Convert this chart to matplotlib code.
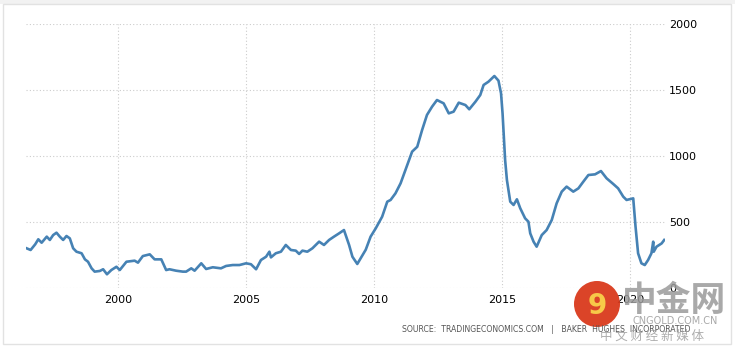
import matplotlib.pyplot as plt
from matplotlib.patches import Rectangle, Ellipse

# US oil rig count (Baker Hughes)
years = [1996.44, 1996.6, 1996.78, 1996.9, 1997.03, 1997.23, 1997.35, 1997.48, 1997.61, 1997.74,
         1997.87, 1998.0, 1998.13, 1998.26, 1998.39, 1998.59, 1998.72, 1998.84, 1998.98, 1999.1,
         1999.3, 1999.43, 1999.58, 1999.75, 1999.95, 2000.08, 2000.34, 2000.66, 2000.79, 2000.98,
         2001.25, 2001.44, 2001.7, 2001.89, 2002.02, 2002.28, 2002.54, 2002.67, 2002.87, 2003.0,
         2003.26, 2003.45, 2003.71, 2004.03, 2004.23, 2004.49, 2004.75, 2005.01, 2005.2, 2005.4,
         2005.59, 2005.79, 2005.92, 2005.98, 2006.17, 2006.37, 2006.56, 2006.76, 2006.95, 2007.08,
         2007.21, 2007.4, 2007.6, 2007.86, 2008.05, 2008.25, 2008.44, 2008.64, 2008.83, 2008.92,
         2009.03, 2009.16, 2009.35, 2009.48, 2009.68, 2009.87, 2010.07, 2010.32, 2010.52, 2010.65,
         2010.84, 2011.04, 2011.3, 2011.49, 2011.69, 2011.88, 2012.07, 2012.27, 2012.46, 2012.72,
         2012.92, 2013.11, 2013.31, 2013.57, 2013.72, 2013.96, 2014.15, 2014.28, 2014.47, 2014.7,
         2014.86, 2014.96, 2015.02, 2015.12, 2015.19, 2015.32, 2015.45, 2015.58, 2015.71, 2015.9,
         2016.03, 2016.1, 2016.23, 2016.35, 2016.55, 2016.74, 2016.94, 2017.13, 2017.33, 2017.52,
         2017.78, 2017.98, 2018.17, 2018.37, 2018.63, 2018.86, 2019.08, 2019.34, 2019.53, 2019.73,
         2019.86, 2020.12, 2020.21, 2020.31, 2020.44, 2020.57, 2020.7, 2020.83, 2020.9, 2020.92,
         2021.03, 2021.23, 2021.33]
rigs = [301, 288, 331, 369, 343, 389, 364, 401, 419, 389,
        364, 394, 376, 301, 275, 263, 217, 199, 149, 124,
        129, 142, 104, 136, 161, 136, 199, 207, 192, 242,
        255, 217, 217, 136, 142, 131, 124, 124, 149, 131,
        187, 144, 157, 149, 167, 174, 174, 187, 180, 142,
        212, 237, 275, 232, 263, 275, 326, 288, 283, 258,
        283, 275, 301, 351, 326, 364, 389, 414, 439, 389,
        326, 237, 182, 225, 290, 389, 452, 540, 654, 667,
        717, 793, 932, 1033, 1070, 1197, 1311, 1374, 1424, 1399,
        1323, 1336, 1404, 1386, 1354, 1411, 1462, 1538, 1563, 1606,
        1571, 1475, 1323, 970, 818, 654, 629, 672, 604, 528,
        502, 414, 351, 313, 401, 439, 515, 641, 730, 768,
        730, 755, 805, 856, 861, 886, 831, 788, 755, 692,
        667, 679, 465, 263, 187, 174, 212, 263, 351, 275,
        313, 338, 364]

x_ticks = [2000, 2005, 2010, 2015, 2020]
y_ticks = [0, 500, 1000, 1500, 2000]

W, H = 735, 354
fig = plt.figure(figsize=(W / 100, H / 100), dpi=100)
fig.patch.set_facecolor('white')

# page frame
fig.add_artist(Rectangle((0, 1 - 4 / H), 1, 4 / H, transform=fig.transFigure,
                         facecolor='#f2f2f2', edgecolor='none'))
fig.add_artist(Rectangle((3 / W, 1 - 344 / H), 728 / W, 340 / H, transform=fig.transFigure,
                         facecolor='none', edgecolor='#e2e2e2', lw=1))

ax = fig.add_axes([26 / W, 1 - 288 / H, (665 - 26) / W, (288 - 24) / H])
ax.plot(years, rigs, color='#4682b4', lw=1.9)

ax.set_xlim(1996.42, 2021.36)
ax.set_ylim(0, 2000)
ax.set_xticks(x_ticks)
ax.set_yticks(y_ticks)
ax.yaxis.tick_right()
ax.tick_params(length=0, labelsize=8, colors='black')
ax.tick_params(axis='y', pad=3)
ax.tick_params(axis='x', pad=5)
ax.grid(True, color='#cccccc', ls=(0, (1, 2)), lw=0.8)
for s in ax.spines.values():
    s.set_visible(False)
ax.set_facecolor('none')

fig.text(690 / W, 1 - 329 / H,
         'SOURCE:  TRADINGECONOMICS.COM   |   BAKER  HUGHES  INCORPORATED',
         ha='right', va='center', fontsize=5.6, color='#555555')

# watermark
fig.add_artist(Ellipse((597 / W, 1 - 304 / H), 46 / W, 46 / H, transform=fig.transFigure,
                       facecolor='#d93a1c', edgecolor='none', alpha=0.95))
fig.text(597 / W, 1 - 306 / H, '9', ha='center', va='center', fontsize=20,
         fontweight='bold', color='#f7c948')
cjk = ['Noto Sans CJK SC', 'DejaVu Sans']
fig.text(674 / W, 1 - 300 / H, '中金网', ha='center', va='center', fontsize=25,
         fontweight='bold', color='#9a9a9a', alpha=0.85, family=cjk)
fig.text(675 / W, 1 - 321 / H, 'CNGOLD.COM.CN', ha='center', va='center', fontsize=7,
         color='#9a9a9a', alpha=0.85)
fig.text(652 / W, 1 - 336 / H, '中 文 财 经 新 媒 体', ha='center', va='center', fontsize=9,
         color='#a0a0a0', alpha=0.85, family=cjk)

fig.savefig('out.png', dpi=100)
